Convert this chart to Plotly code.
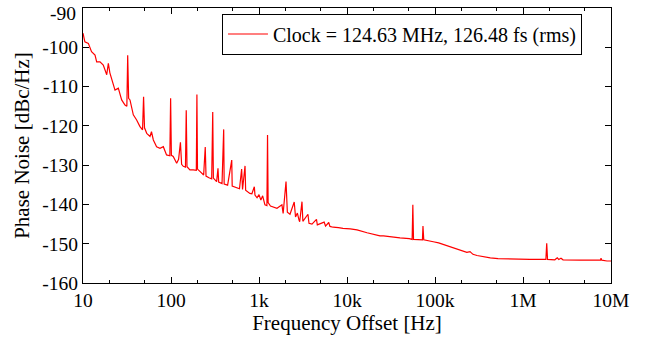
import plotly.graph_objects as go

freq_hz = [
    10, 10.5, 11.5, 12.5, 13.7, 14.3, 15.6, 17.0, 18.6, 19.4, 20.2, 21.2, 23.1, 25.2, 27.5,
    30.0, 31.5, 32.2, 33.0, 34.2, 35.5, 37.3, 40.7, 44.4, 47.5, 48.8, 50.0, 53.0, 57.7, 60.0,
    63.0, 68.6, 75.0, 81.8, 89.0, 97.0, 99.0, 101.0, 106.0, 116.0, 122.0, 128.0, 132.0, 138.0,
    146.0, 149.0, 152.0, 164.0, 179.0, 194.0, 197.0, 200.0, 213.0, 235.0, 245.0, 250.0, 270.0,
    290.0, 298.0, 303.0, 330.0, 342.0, 348.0, 380.0, 397.0, 402.0, 440.0, 490.0, 496.0, 560.0,
    600.0, 635.0, 650.0, 694.0, 705.0, 787.0, 830.0, 885.0, 900.0, 950.0, 1000.0, 1050.0,
    1100.0, 1168.0, 1230.0, 1250.0, 1270.0, 1350.0, 1450.0, 1600.0, 1822.0, 1880.0, 2028.0,
    2100.0, 2250.0, 2513.0, 2600.0, 2730.0, 2850.0, 2900.0, 3080.0, 3150.0, 3600.0, 3700.0,
    4000.0, 4500.0, 4600.0, 5500.0, 5700.0, 6200.0, 6400.0, 6960.0, 8000.0, 9000.0, 10900.0,
    13000.0, 16900.0, 20000.0, 23700.0, 26000.0, 30000.0, 36800.0, 40000.0, 51000.0, 55000.0,
    56000.0, 57000.0, 72000.0, 73000.0, 74500.0, 85000.0, 95600.0, 110000.0, 135000.0,
    160000.0, 192000.0, 230000.0, 250000.0, 270000.0, 300000.0, 350000.0, 425000.0, 520000.0,
    657000.0, 800000.0, 975000.0, 1200000.0, 1500000.0, 1820000.0, 1860000.0, 1900000.0,
    2300000.0, 2450000.0, 2550000.0, 2700000.0, 2850000.0, 3500000.0, 4400000.0, 6000000.0,
    7600000.0, 7700000.0, 7850000.0, 9000000.0, 10000000.0,
]
phase_noise_dbc = [
    -96.4, -98.6, -99.0, -101.1, -102.0, -103.7, -103.7, -104.5, -107.0, -104.1, -106.5, -108.3,
    -110.9, -110.4, -113.4, -114.7, -115.0, -102.0, -113.0, -113.4, -115.5, -117.2, -118.5,
    -120.2, -121.0, -112.6, -120.5, -121.9, -122.7, -121.5, -123.6, -125.3, -125.7, -125.3,
    -127.4, -127.6, -113.0, -127.5, -127.8, -129.5, -128.5, -124.2, -129.8, -130.3, -130.5,
    -116.0, -130.4, -131.2, -131.2, -131.3, -112.0, -131.0, -131.6, -132.5, -125.4, -132.8,
    -133.2, -133.5, -116.5, -133.3, -134.2, -130.8, -134.3, -134.7, -120.9, -134.8, -135.1,
    -128.7, -135.3, -135.8, -136.0, -131.0, -136.2, -130.2, -136.4, -137.2, -137.3, -135.5,
    -137.6, -138.3, -137.5, -138.9, -137.8, -140.1, -140.3, -122.3, -139.5, -140.4, -140.6,
    -141.0, -140.1, -142.3, -134.2, -142.0, -142.5, -139.4, -143.2, -142.2, -144.0, -144.4,
    -139.3, -144.3, -142.5, -144.8, -145.0, -143.8, -145.2, -144.5, -145.5, -144.6, -145.6,
    -145.8, -145.9, -146.1, -146.2, -146.5, -147.2, -147.6, -148.0, -148.0, -148.2, -148.4,
    -148.5, -148.7, -148.9, -140.1, -148.9, -149.0, -145.5, -149.0, -149.2, -149.5, -149.8,
    -150.5, -151.0, -151.7, -152.2, -152.0, -152.7, -153.0, -153.3, -153.6, -153.8, -153.9,
    -153.8, -153.9, -154.0, -154.0, -154.0, -149.9, -154.0, -154.1, -153.6, -154.0, -153.7,
    -154.1, -154.2, -154.2, -154.2, -154.2, -153.7, -154.2, -154.4, -154.4,
]

x_tickvals = [10, 100, 1e3, 1e4, 1e5, 1e6, 1e7]
x_ticktext = ["10", "100", "1k", "10k", "100k", "1M", "10M"]
y_tickvals = [-160, -150, -140, -130, -120, -110, -100, -90]
y_ticktext = ["-160", "-150", "-140", "-130", "-120", "-110", "-100", ""]
y_top_label = "-90"

legend_name = "Clock = 124.63 MHz, 126.48 fs (rms)"

fig = go.Figure()
fig.add_trace(go.Scatter(
    x=freq_hz, y=phase_noise_dbc, mode="lines", name=legend_name,
    line=dict(color="#ff0000", width=1.2),
))

font_family = "Liberation Serif, Times New Roman, serif"
axis_common = dict(
    showline=True, linecolor="black", linewidth=1, mirror="ticks",
    ticks="inside", ticklen=6, tickcolor="black", showgrid=False, zeroline=False,
    tickfont=dict(family=font_family, size=19.5, color="black"),
    ticklabeloverflow="allow", automargin=False,
)

fig.update_layout(
    width=650, height=346,
    margin=dict(l=83, r=39, t=8, b=63),
    paper_bgcolor="white", plot_bgcolor="white",
    font=dict(family=font_family, size=19, color="black"),
    showlegend=True,
    legend=dict(
        x=0.945, y=0.98, xanchor="right", yanchor="top",
        bordercolor="black", borderwidth=1, bgcolor="white",
        font=dict(family=font_family, size=20, color="black"),
        itemwidth=40, tracegroupgap=0,
    ),
    xaxis=dict(
        type="log", range=[1, 7], tickvals=x_tickvals, ticktext=x_ticktext,
        title=dict(text="Frequency Offset [Hz]", font=dict(family=font_family, size=21), standoff=4),
        minor=dict(ticks="inside", ticklen=3, tickcolor="black", showgrid=False),
        **axis_common,
    ),
    yaxis=dict(
        range=[-160, -90], tickvals=y_tickvals, ticktext=y_ticktext,
        title=dict(text="Phase Noise [dBc/Hz]", font=dict(family=font_family, size=21), standoff=6),
        **axis_common,
    ),
)

fig.add_annotation(
    text=y_top_label, xref="paper", x=0, yref="y", y=y_tickvals[-1],
    xanchor="right", yanchor="top", xshift=-5, yshift=7, showarrow=False,
    font=dict(family=font_family, size=19.5, color="black"),
)

fig.write_html("out.html")
